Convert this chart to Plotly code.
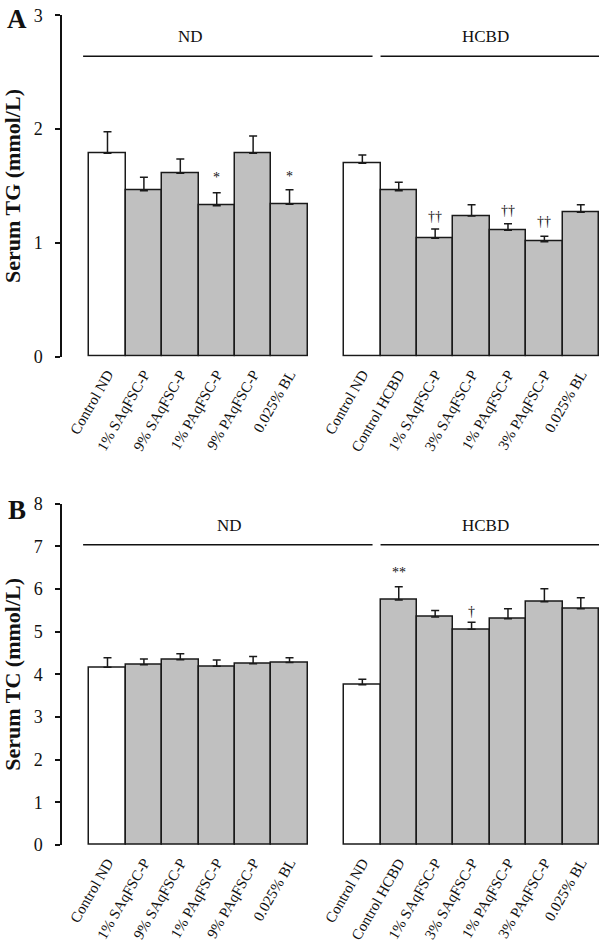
import plotly.graph_objects as go

# ---------------- data ----------------
nd_labels = ["Control ND", "1% SAqFSC-P", "9% SAqFSC-P", "1% PAqFSC-P", "9% PAqFSC-P", "0.025% BL"]
hcbd_labels = ["Control ND", "Control HCBD", "1% SAqFSC-P", "3% SAqFSC-P", "1% PAqFSC-P", "3% PAqFSC-P", "0.025% BL"]

tg_nd = [1.787, 1.459, 1.611, 1.327, 1.787, 1.339]
tg_nd_err = [0.190, 0.117, 0.126, 0.114, 0.152, 0.128]
tg_hcbd = [1.699, 1.459, 1.040, 1.236, 1.111, 1.011, 1.269]
tg_hcbd_err = [0.073, 0.073, 0.082, 0.100, 0.058, 0.047, 0.067]

tc_nd = [4.165, 4.227, 4.344, 4.188, 4.250, 4.280]
tc_nd_err = [0.225, 0.133, 0.140, 0.150, 0.170, 0.110]
tc_hcbd = [3.758, 5.743, 5.345, 5.056, 5.305, 5.700, 5.540]
tc_hcbd_err = [0.130, 0.310, 0.150, 0.164, 0.235, 0.305, 0.258]

# significance marks: (group, index, text, y)
tg_marks = [("nd", 3, "*", 1.60), ("nd", 5, "*", 1.61),
            ("hcbd", 2, "††", 1.26), ("hcbd", 4, "††", 1.313), ("hcbd", 5, "††", 1.21)]
tc_marks = [("hcbd", 1, "**", 6.45), ("hcbd", 3, "†", 5.55)]

WHITE = "#ffffff"
GRAY = "#c0c0c0"
SERIF = "Liberation Serif, Times New Roman, serif"

nd_x = list(range(len(nd_labels)))
hcbd_x = [len(nd_labels) + 1 + i for i in range(len(hcbd_labels))]
all_x = nd_x + hcbd_x
all_text = nd_labels + hcbd_labels


def pos(group, i):
    return nd_x[i] if group == "nd" else hcbd_x[i]


fig = go.Figure()


def add_panel(xa, ya, nd_vals, nd_err, hc_vals, hc_err):
    vals = nd_vals + hc_vals
    errs = nd_err + hc_err
    colors = [WHITE] + [GRAY] * (len(nd_vals) - 1) + [WHITE] + [GRAY] * (len(hc_vals) - 1)
    fig.add_trace(go.Bar(
        x=all_x, y=vals, xaxis=xa, yaxis=ya, width=1.0,
        marker=dict(color=colors, line=dict(color="#1a1a1a", width=1.5)),
        error_y=dict(type="data", array=errs, arrayminus=[0] * len(errs), symmetric=False,
                     color="#1a1a1a", thickness=1.5, width=4),
        showlegend=False, hoverinfo="skip"))


add_panel("x", "y", tg_nd, tg_nd_err, tg_hcbd, tg_hcbd_err)
add_panel("x2", "y2", tc_nd, tc_nd_err, tc_hcbd, tc_hcbd_err)

H = 946.0
W = 600.0
xdom = [61 / W, 599 / W]
xrange_ = [-1.277, 13.5]

common_x = dict(range=xrange_, domain=xdom, showline=False, showgrid=False, zeroline=False,
                tickmode="array", tickvals=all_x, ticktext=all_text, tickangle=-60,
                tickfont=dict(family=SERIF, size=15, color="#111"), ticks="", automargin=False,
                ticklabelstandoff=5)
common_y = dict(showline=True, linecolor="#111", linewidth=1.5, ticks="outside", ticklen=5,
                tickwidth=1.5, tickcolor="#111", showgrid=False, zeroline=False, dtick=1,
                tickfont=dict(family=SERIF, size=18, color="#111"), ticklabelstandoff=9,
                automargin=False)

fig.update_layout(
    width=600, height=946, margin=dict(l=0, r=0, t=0, b=0, autoexpand=False),
    plot_bgcolor="white", paper_bgcolor="white", bargap=0,
    xaxis=dict(anchor="y", **common_x),
    yaxis=dict(anchor="free", position=xdom[0], range=[0, 3],
               domain=[1 - 356.7 / H, 1 - 15.3 / H],
               title=dict(text="<b>Serum TG (mmol/L)</b>", font=dict(family=SERIF, size=22, color="#111"),
                          standoff=12),
               **common_y),
    xaxis2=dict(anchor="y2", **common_x),
    yaxis2=dict(anchor="free", position=xdom[0], range=[0, 8],
                domain=[1 - 845.0 / H, 1 - 503.7 / H],
                title=dict(text="<b>Serum TC (mmol/L)</b>", font=dict(family=SERIF, size=22, color="#111"),
                           standoff=12),
                **common_y),
)

# group lines and labels
shapes = []
ann = []
for xa, ya, ly, lab_y, nd_cx in [("x", "y", 2.64, 2.81, 2.27), ("x2", "y2", 7.04, 7.50, 3.35)]:
    shapes.append(dict(type="line", xref=xa, yref=ya, x0=-0.67, x1=7.28, y0=ly, y1=ly,
                       line=dict(color="#111", width=1.5)))
    shapes.append(dict(type="line", xref=xa, yref=ya, x0=7.5, x1=13.5, y0=ly, y1=ly,
                       line=dict(color="#111", width=1.5)))
    ann.append(dict(xref=xa, yref=ya, x=nd_cx, y=lab_y, text="ND", showarrow=False,
                    font=dict(family=SERIF, size=17, color="#111")))
    ann.append(dict(xref=xa, yref=ya, x=10.37, y=lab_y, text="HCBD", showarrow=False,
                    font=dict(family=SERIF, size=17, color="#111")))

for xa, ya, marks in [("x", "y", tg_marks), ("x2", "y2", tc_marks)]:
    for g, i, t, yv in marks:
        ann.append(dict(xref=xa, yref=ya, x=pos(g, i), y=yv, text=t, showarrow=False, yshift=-3,
                        font=dict(family=SERIF, size=14, color="#111")))

ann.append(dict(xref="paper", yref="paper", x=16.5 / W, y=1 - 19.5 / H, text="<b>A</b>", showarrow=False,
                xanchor="center", yanchor="middle", font=dict(family=SERIF, size=27, color="#111")))
ann.append(dict(xref="paper", yref="paper", x=16.5 / W, y=1 - 510 / H, text="<b>B</b>", showarrow=False,
                xanchor="center", yanchor="middle", font=dict(family=SERIF, size=27, color="#111")))

fig.update_layout(shapes=shapes, annotations=ann)
fig.write_html("out.html", config={"displayModeBar": False},
               post_script="document.body.style.margin='0';document.body.style.overflow='hidden';")
